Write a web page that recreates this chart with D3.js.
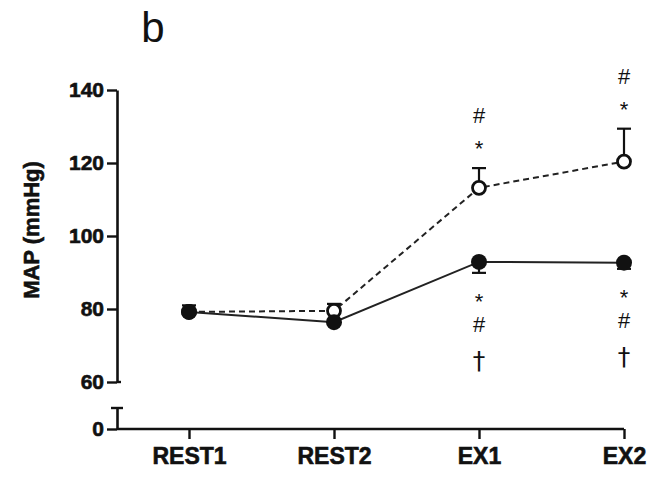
<!DOCTYPE html>
<html><head><meta charset="utf-8">
<script src="https://cdn.jsdelivr.net/npm/d3@7/dist/d3.min.js"></script>
<style>body{margin:0;background:#fff}svg{display:block}</style>
</head><body>
<svg id="c" width="664" height="479"></svg>
<script>
const categories = ["REST1", "REST2", "EX1", "EX2"];
const openMean = [79.2, 79.5, 113.2, 120.4];
const openErr = [1.8, 1.9, 5.4, 9.0];
const closedMean = [79.2, 76.4, 92.9, 92.7];
const closedErr = [0.4, 0.4, 3.0, 1.7];
const annotAbove = [[], [], ["*", "#"], ["*", "#"]];
const annotBelow = [[], [], ["*", "#", "†"], ["*", "#", "†"]];
const yTicks = [60, 80, 100, 120, 140];

const svg = d3.select("#c");
const axisX0 = 117;
const x = d3.scalePoint().domain(categories).range([189, 624]);
const y = d3.scaleLinear().domain([60, 140]).range([382, 90]);
const yLow = d3.scaleLinear().domain([0, 5.75]).range([429, 408]);
const font = "'Liberation Sans', Arial, sans-serif";
const ink = "#111";

function styleAxis(g, fs) {
  g.select(".domain").attr("stroke", ink).attr("stroke-width", 2.6);
  g.selectAll(".tick line").attr("stroke", ink).attr("stroke-width", 2.4);
  g.selectAll(".tick text").attr("font-family", font).attr("font-weight", "bold")
    .attr("font-size", fs).attr("fill", ink).attr("stroke", ink).attr("stroke-width", 0.6);
}

// y axis upper segment
const gy = svg.append("g").attr("transform", `translate(${axisX0},0)`)
  .call(d3.axisLeft(y).tickValues(yTicks).tickSize(10).tickPadding(3).tickSizeOuter(0));
styleAxis(gy, 21);
gy.append("line").attr("x1", 0).attr("x2", 4).attr("y1", y(60)).attr("y2", y(60))
  .attr("stroke", ink).attr("stroke-width", 2.4);

// y axis lower segment
const gyl = svg.append("g").attr("transform", `translate(${axisX0},0)`)
  .call(d3.axisLeft(yLow).tickValues([0]).tickFormat(d3.format("d")).tickSize(10).tickPadding(3).tickSizeOuter(0));
styleAxis(gyl, 21);
gyl.append("line").attr("x1", -6).attr("x2", 6).attr("y1", yLow(5.75)).attr("y2", yLow(5.75))
  .attr("stroke", ink).attr("stroke-width", 2.4);

// x axis
const gx = svg.append("g").attr("transform", `translate(0,${yLow(0)})`)
  .call(d3.axisBottom(x).tickSize(10).tickPadding(9).tickSizeOuter(0));
gx.select(".domain").attr("d", `M${axisX0},0H${x(categories[categories.length-1])}`);
styleAxis(gx, 23);

// y title
svg.append("text").attr("transform", "translate(39,230) rotate(-90)")
  .attr("text-anchor", "middle").attr("font-family", font).attr("font-weight", "bold")
  .attr("font-size", 22).attr("fill", ink).attr("stroke", ink).attr("stroke-width", 0.6)
  .text("MAP (mmHg)");

// panel label
svg.append("text").attr("x", 153).attr("y", 42).attr("text-anchor", "middle")
  .attr("font-family", font).attr("font-size", 42).attr("fill", ink).text("b");

const openData = categories.map((c, i) => ({c, v: openMean[i], e: openErr[i]}));
const closedData = categories.map((c, i) => ({c, v: closedMean[i], e: closedErr[i]}));
const line = d3.line().x(d => x(d.c)).y(d => y(d.v));

// error bars: open up, closed down
function errBars(data, dir) {
  const g = svg.append("g").attr("stroke", ink).attr("stroke-width", 2.2);
  data.forEach(d => {
    const yEnd = y(d.v + dir * d.e);
    g.append("line").attr("x1", x(d.c)).attr("x2", x(d.c)).attr("y1", y(d.v)).attr("y2", yEnd);
    g.append("line").attr("x1", x(d.c) - 7).attr("x2", x(d.c) + 7).attr("y1", yEnd).attr("y2", yEnd);
  });
}
errBars(openData, 1);
errBars(closedData, -1);

// lines
svg.append("path").datum(openData).attr("d", line).attr("fill", "none")
  .attr("stroke", "#222").attr("stroke-width", 2).attr("stroke-dasharray", "6,4");
svg.append("path").datum(closedData).attr("d", line).attr("fill", "none")
  .attr("stroke", "#222").attr("stroke-width", 2);

// markers
svg.selectAll("circle.open").data(openData).join("circle").attr("class", "open")
  .attr("cx", d => x(d.c)).attr("cy", d => y(d.v)).attr("r", 6.5)
  .attr("fill", "#fff").attr("stroke", ink).attr("stroke-width", 2.8);
svg.selectAll("circle.closed").data(closedData).join("circle").attr("class", "closed")
  .attr("cx", d => x(d.c)).attr("cy", d => y(d.v)).attr("r", 8)
  .attr("fill", ink);

// annotation symbols
const symStyle = {
  "*": {fs: 22, shift: 0.55, fam: font},
  "#": {fs: 22, shift: 0.36, fam: font},
  "†": {fs: 25, shift: 0.30, fam: "'DejaVu Sans', sans-serif"}
};
function place(sym, cx, cyCenter) {
  const s = symStyle[sym];
  svg.append("text").attr("x", cx).attr("y", cyCenter + s.shift * s.fs)
    .attr("text-anchor", "middle").attr("font-family", s.fam)
    .attr("font-size", s.fs).attr("fill", ink).text(sym);
}
const aboveOffsets = [24, 53];
const belowOffsets = [24, 51, 89];
openData.forEach((d, i) => {
  const top = y(d.v + d.e);
  annotAbove[i].forEach((s, k) => place(s, x(d.c), top - aboveOffsets[k]));
});
closedData.forEach((d, i) => {
  const bot = y(d.v - d.e);
  annotBelow[i].forEach((s, k) => place(s, x(d.c), bot + belowOffsets[k]));
});
</script>
</body></html>
